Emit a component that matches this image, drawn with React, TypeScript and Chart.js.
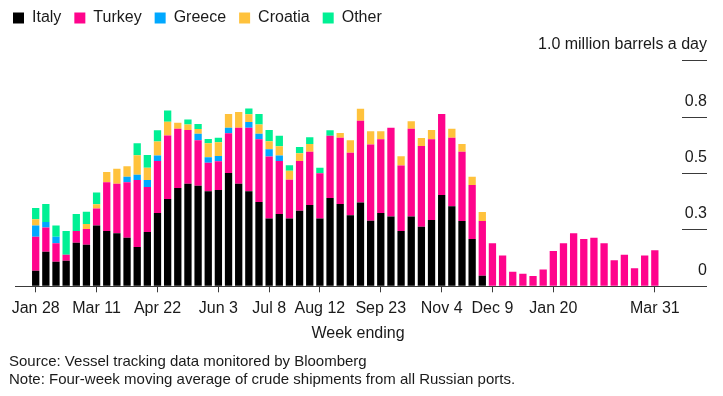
import React, { useEffect, useRef } from 'react';
import { Chart, registerables } from 'chart.js';

Chart.register(...registerables);

const weeks = [
  'Jan 28', 'Feb 4', 'Feb 11', 'Feb 18', 'Feb 25', 'Mar 4', 'Mar 11', 'Mar 18', 'Mar 25', 'Apr 1',
  'Apr 8', 'Apr 15', 'Apr 22', 'Apr 29', 'May 6', 'May 13', 'May 20', 'May 27', 'Jun 3', 'Jun 10',
  'Jun 17', 'Jun 24', 'Jul 1', 'Jul 8', 'Jul 15', 'Jul 22', 'Jul 29', 'Aug 5', 'Aug 12', 'Aug 19',
  'Aug 26', 'Sep 2', 'Sep 9', 'Sep 16', 'Sep 23', 'Sep 30', 'Oct 7', 'Oct 14', 'Oct 21', 'Oct 28',
  'Nov 4', 'Nov 11', 'Nov 18', 'Nov 25', 'Dec 2', 'Dec 9', 'Dec 16', 'Dec 23', 'Dec 30', 'Jan 6',
  'Jan 13', 'Jan 20', 'Jan 27', 'Feb 3', 'Feb 10', 'Feb 17', 'Feb 24', 'Mar 3', 'Mar 10', 'Mar 17',
  'Mar 24', 'Mar 31',
];

const tickWeeks = ['Jan 28', 'Mar 11', 'Apr 22', 'Jun 3', 'Jul 8', 'Aug 12', 'Sep 23', 'Nov 4', 'Dec 9', 'Jan 20', 'Mar 31'];

const italy = [
  0.069, 0.153, 0.109, 0.113, 0.193, 0.184, 0.270, 0.245, 0.235, 0.215,
  0.174, 0.241, 0.325, 0.387, 0.436, 0.455, 0.446, 0.421, 0.427, 0.502,
  0.455, 0.421, 0.374, 0.300, 0.320, 0.300, 0.335, 0.360, 0.300, 0.391,
  0.365, 0.315, 0.371, 0.291, 0.325, 0.309, 0.245, 0.309, 0.264, 0.294,
  0.405, 0.355, 0.289, 0.210, 0.047, 0, 0, 0, 0, 0,
  0, 0, 0, 0, 0, 0, 0, 0, 0, 0,
  0, 0,
];

const turkey = [
  0.151, 0.108, 0.082, 0.027, 0.052, 0.070, 0.075, 0.216, 0.220, 0.246,
  0.297, 0.199, 0.230, 0.281, 0.262, 0.238, 0.201, 0.127, 0.127, 0.176,
  0.248, 0.282, 0.278, 0.275, 0.235, 0.172, 0.220, 0.236, 0.201, 0.276,
  0.293, 0.277, 0.363, 0.337, 0.327, 0.394, 0.291, 0.389, 0.358, 0.358,
  0.359, 0.303, 0.307, 0.239, 0.242, 0.191, 0.137, 0.065, 0.056, 0.046,
  0.075, 0.156, 0.191, 0.235, 0.210, 0.215, 0.191, 0.115, 0.140, 0.080,
  0.136, 0.160,
];

const greece = [
  0.049, 0.024, 0.029, 0, 0, 0, 0, 0, 0, 0.025,
  0.024, 0.031, 0.025, 0, 0, 0, 0.029, 0.024, 0.024, 0.025,
  0, 0.025, 0.024, 0.033, 0.025, 0, 0, 0, 0, 0,
  0, 0, 0, 0, 0, 0, 0, 0, 0, 0,
  0, 0, 0, 0, 0, 0, 0, 0, 0, 0,
  0, 0, 0, 0, 0, 0, 0, 0, 0, 0,
  0, 0,
];

const croatia = [
  0.028, 0, 0, 0, 0, 0.022, 0.019, 0.046, 0.066, 0.046,
  0.086, 0.055, 0.062, 0.061, 0.027, 0.024, 0.021, 0.062, 0.061, 0.061,
  0.070, 0.035, 0.041, 0.035, 0.041, 0.040, 0.035, 0.035, 0, 0,
  0.021, 0.055, 0.053, 0.059, 0.035, 0, 0.040, 0.034, 0.035, 0.041,
  0, 0.040, 0.035, 0.037, 0.040, 0, 0, 0, 0, 0,
  0, 0, 0, 0, 0, 0, 0, 0, 0, 0,
  0, 0,
];

const other = [
  0.050, 0.080, 0.050, 0.105, 0.075, 0.055, 0.052, 0, 0, 0,
  0.053, 0.056, 0.050, 0.050, 0, 0.022, 0.022, 0.019, 0.020, 0,
  0, 0.025, 0.047, 0.050, 0.046, 0.025, 0.027, 0.030, 0.025, 0.025,
  0, 0, 0, 0, 0, 0, 0, 0, 0, 0,
  0, 0, 0, 0, 0, 0, 0, 0, 0, 0,
  0, 0, 0, 0, 0, 0, 0, 0, 0, 0,
  0, 0,
];

const yTicks = [0, 0.25, 0.5, 0.75, 1];
const yTickLabels = ['0', '0.3', '0.5', '0.8', '1.0 million barrels a day'];

const FONT = '"Liberation Sans", Arial, sans-serif';
const TEXT = '#1a1a1a';
const LINE = '#3a3a3a';
const X_MIN = -2.63;
const X_MAX = 66.14;

export default function App() {
  const ref = useRef<HTMLCanvasElement | null>(null);

  useEffect(() => {
    document.body.style.margin = '0';
    const canvas = ref.current;
    if (!canvas) return;

    const series = [
      { label: 'Italy', data: italy, color: '#000000' },
      { label: 'Turkey', data: turkey, color: '#ff048c' },
      { label: 'Greece', data: greece, color: '#00a8ff' },
      { label: 'Croatia', data: croatia, color: '#ffc23c' },
      { label: 'Other', data: other, color: '#00f094' },
    ];

    const chart = new Chart(canvas, {
      type: 'bar',
      data: {
        labels: weeks.map((_, i) => i),
        datasets: series.map((s) => ({
          label: s.label,
          data: s.data,
          backgroundColor: s.color,
          borderWidth: 0,
          stack: 'total',
          xAxisID: 'x',
          yAxisID: 'y',
          barPercentage: 0.72,
          categoryPercentage: 1,
        })),
      },
      options: {
        responsive: false,
        animation: false,
        devicePixelRatio: 1,
        layout: { padding: { top: -3, right: 16, bottom: 0, left: 0 } },
        plugins: {
          legend: {
            position: 'top',
            align: 'start',
            labels: {
              boxWidth: 11,
              boxHeight: 11,
              padding: 13,
              color: TEXT,
              font: { family: FONT, size: 16 },
            },
          },
          title: {
            display: true,
            position: 'bottom',
            align: 'start',
            fullSize: false,
            text: [
              'Source: Vessel tracking data monitored by Bloomberg',
              'Note: Four-week moving average of crude shipments from all Russian ports.',
            ],
            color: TEXT,
            font: { family: FONT, size: 15, weight: 'normal', lineHeight: '18px' },
            padding: { top: 0, bottom: 7 },
          },
          tooltip: { enabled: false },
        },
        scales: {
          x: {
            type: 'linear',
            position: 'bottom',
            offset: false,
            min: X_MIN,
            max: X_MAX,
            afterBuildTicks: (scale: any) => {
              scale.ticks = tickWeeks.map((w) => ({ value: weeks.indexOf(w) }));
            },
            afterFit: (scale: any) => {
              scale.paddingLeft = 0;
              scale.paddingRight = 0;
            },
            ticks: {
              autoSkip: false,
              maxRotation: 0,
              padding: 7,
              color: TEXT,
              font: { family: FONT, size: 16 },
              callback: (value: any) => weeks[value as number] ?? '',
            },
            grid: {
              offset: false,
              drawOnChartArea: false,
              drawTicks: true,
              tickLength: 6,
              tickColor: LINE,
              color: LINE,
            },
            border: { display: false },
            title: {
              display: true,
              text: 'Week ending',
              color: TEXT,
              font: { family: FONT, size: 16 },
              padding: { top: -1.1, bottom: 9.4 },
            },
          },
          xTop: {
            type: 'linear',
            position: 'top',
            display: true,
            offset: false,
            ticks: { display: false },
            grid: { display: false },
            border: { display: false },
            afterFit: (scale: any) => {
              scale.height = 24.7;
            },
          },
          yPad: {
            type: 'linear',
            position: 'left',
            display: true,
            ticks: { display: false },
            grid: { display: false },
            border: { display: false },
            afterFit: (scale: any) => {
              scale.width = 9;
            },
          },
          y: {
            type: 'linear',
            position: { x: X_MAX } as any,
            stacked: true,
            min: 0,
            max: 1,
            afterBuildTicks: (scale: any) => {
              scale.ticks = yTicks.map((v) => ({ value: v }));
            },
            ticks: {
              labelOffset: -16,
              padding: 0,
              color: TEXT,
              font: { family: FONT, size: 16 },
              callback: (value: any) => {
                const i = yTicks.indexOf(value as number);
                return i >= 0 ? yTickLabels[i] : '';
              },
            },
            grid: {
              drawOnChartArea: false,
              drawTicks: true,
              tickLength: 25,
              tickColor: LINE,
              color: LINE,
            },
            border: { display: false },
          },
          yBase: {
            type: 'linear',
            position: { x: X_MAX } as any,
            min: 0,
            max: 1,
            afterBuildTicks: (scale: any) => {
              scale.ticks = [{ value: 0 }];
            },
            ticks: { display: false },
            grid: {
              drawOnChartArea: false,
              drawTicks: true,
              tickLength: 692,
              tickColor: LINE,
              color: LINE,
            },
            border: { display: false },
          },
        },
      },
    } as any);

    return () => chart.destroy();
  }, []);

  return (
    <div style={{ width: 723, height: 396, background: '#ffffff' }}>
      <canvas ref={ref} width={723} height={396} style={{ display: 'block' }} />
    </div>
  );
}
